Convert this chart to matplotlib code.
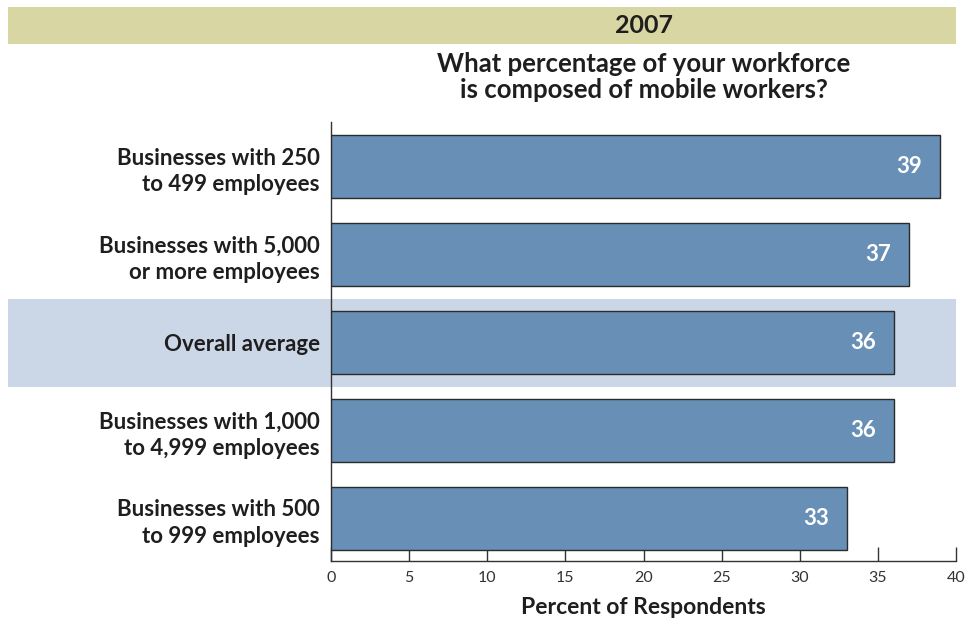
import matplotlib.pyplot as plt
from matplotlib.patches import Rectangle
from matplotlib.transforms import blended_transform_factory

# Data
categories = [
    "Businesses with 250\nto 499 employees",
    "Businesses with 5,000\nor more employees",
    "Overall average",
    "Businesses with 1,000\nto 4,999 employees",
    "Businesses with 500\nto 999 employees",
]
values = [39, 37, 36, 36, 33]
highlight = "Overall average"
xticks = [0, 5, 10, 15, 20, 25, 30, 35, 40]

plt.rcParams['font.family'] = ['Lato', 'DejaVu Sans']

fig = plt.figure(figsize=(9.68, 6.26), dpi=100)
ax = fig.add_axes([331 / 968, 1 - 561 / 626, 625 / 968, 439 / 626])

ypos = list(range(len(categories)))
bar_color = '#688fb5'

# highlight band behind the "Overall average" row, reaching out to the left edge
hi = categories.index(highlight)
trans = blended_transform_factory(fig.transFigure, ax.transData)
fig.patches.append(Rectangle((8 / 968, hi - 0.5), 948 / 968, 1.0, transform=trans,
                             facecolor='#cbd6e6', edgecolor='none', zorder=-1))

ax.barh(ypos, values, height=0.716, color=bar_color, edgecolor='#2b2b2b',
        linewidth=1.0, zorder=3)

for y, v in zip(ypos, values):
    ax.text(v - 1.15, y, str(v), ha='right', va='center', color='white',
            fontsize=16, fontweight='bold', zorder=4)

ax.set_xlim(0, 40)
ax.set_ylim(4 + 42.5 / 88, -44.5 / 88)
ax.patch.set_alpha(0)

ax.set_yticks(ypos)
ax.set_yticklabels(categories, fontsize=16, fontweight='bold', color='#1e1e1e',
                   linespacing=1.35)
ax.tick_params(axis='y', length=0, pad=8)

ax.set_xticks(xticks)
ax.set_xticklabels([str(t) for t in xticks], fontsize=11.5, fontweight='normal',
                   color='#333333')
ax.tick_params(axis='x', direction='in', length=10, width=1, color='#333333', pad=7)

for side in ['top', 'right']:
    ax.spines[side].set_visible(False)
for side in ['left', 'bottom']:
    ax.spines[side].set_color('#333333')
    ax.spines[side].set_linewidth(1)

ax.set_xlabel("Percent of Respondents", fontsize=16.5, fontweight='bold',
              color='#1e1e1e', labelpad=9)

# header band with year
fig.patches.append(Rectangle((8 / 968, 1 - 44 / 626), 948 / 968, 37 / 626,
                             transform=fig.transFigure, facecolor='#d8d7a3',
                             edgecolor='none', zorder=-1))
fig.text(643.5 / 968, 1 - 25.5 / 626, "2007", ha='center', va='center',
         fontsize=18, fontweight='bold', color='#1e1e1e')

fig.text(643.5 / 968, 1 - 77 / 626,
         "What percentage of your workforce\nis composed of mobile workers?",
         ha='center', va='center', fontsize=18.5, fontweight='bold',
         color='#1e1e1e', linespacing=1.15)

fig.savefig('out.png', dpi=100)
